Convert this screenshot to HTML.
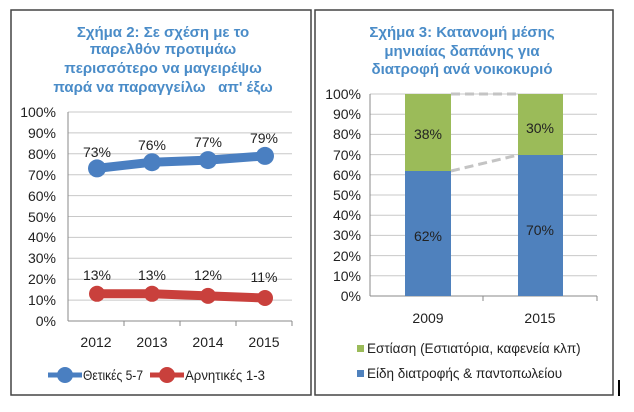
<!DOCTYPE html>
<html><head><meta charset="utf-8"><style>
html,body{margin:0;padding:0;background:#fff;}
svg{display:block;font-family:"Liberation Sans","DejaVu Sans",sans-serif;}
</style></head><body>
<svg width="634" height="412" viewBox="0 0 634 412" xmlns="http://www.w3.org/2000/svg">
<rect x="11" y="10" width="300" height="385" fill="#fff" stroke="#444" stroke-width="1.5"/>
<rect x="315" y="10" width="298" height="385" fill="#fff" stroke="#444" stroke-width="1.5"/>
<line x1="619" y1="380" x2="619" y2="396" stroke="#000" stroke-width="2"/>
<g fill="#4a8cc8" font-weight="bold" font-size="15" text-anchor="middle">
<text x="163" y="37">Σχήμα 2: Σε σχέση με το</text>
<text x="163" y="54">παρελθόν προτιμάω</text>
<text x="163" y="73">περισσότερο να μαγειρέψω</text>
<text x="163" y="92">παρά να παραγγείλω&#160;&#160; απ' έξω</text>
<text x="462" y="37">Σχήμα 3: Κατανομή μέσης</text>
<text x="462" y="56">μηνιαίας δαπάνης για</text>
<text x="462" y="74">διατροφή ανά νοικοκυριό</text>
</g>
<!-- left grid: 100% at 112, 0% at 321 -->
<g stroke="#c8c8c8" stroke-width="1">
<line x1="68" y1="112" x2="292" y2="112"/><line x1="68" y1="132.9" x2="292" y2="132.9"/>
<line x1="68" y1="153.8" x2="292" y2="153.8"/><line x1="68" y1="174.7" x2="292" y2="174.7"/>
<line x1="68" y1="195.6" x2="292" y2="195.6"/><line x1="68" y1="216.5" x2="292" y2="216.5"/>
<line x1="68" y1="237.4" x2="292" y2="237.4"/><line x1="68" y1="258.3" x2="292" y2="258.3"/>
<line x1="68" y1="279.2" x2="292" y2="279.2"/><line x1="68" y1="300.1" x2="292" y2="300.1"/>
</g>
<g stroke="#888"><line x1="68" y1="112" x2="68" y2="321"/><line x1="68" y1="321" x2="292" y2="321"/>
<line x1="124" y1="321" x2="124" y2="326"/><line x1="180" y1="321" x2="180" y2="326"/><line x1="236" y1="321" x2="236" y2="326"/><line x1="292" y1="321" x2="292" y2="326"/></g>
<g font-size="14" fill="#222" text-anchor="end">
<text x="56" y="117">100%</text><text x="56" y="138">90%</text><text x="56" y="159">80%</text>
<text x="56" y="180">70%</text><text x="56" y="201">60%</text><text x="56" y="222">50%</text>
<text x="56" y="242">40%</text><text x="56" y="263">30%</text><text x="56" y="284">20%</text>
<text x="56" y="305">10%</text><text x="56" y="326">0%</text>
</g>
<g font-size="14" fill="#222" text-anchor="middle">
<text x="96" y="347">2012</text><text x="152" y="347">2013</text><text x="208" y="347">2014</text><text x="264" y="347">2015</text>
<text x="97" y="157">73%</text><text x="152" y="150">76%</text><text x="208" y="147">77%</text><text x="264" y="143">79%</text>
<text x="97" y="280">13%</text><text x="152" y="280">13%</text><text x="208" y="280">12%</text><text x="264" y="282">11%</text>
</g>
<polyline points="97,168.4 152,162.2 208,160.1 265,155.9" fill="none" stroke="#4a7fc1" stroke-width="9" stroke-linejoin="round"/>
<g fill="#4a7fc1"><circle cx="97" cy="168.4" r="9"/><circle cx="152" cy="162.2" r="9"/><circle cx="208" cy="160.1" r="9"/><circle cx="265" cy="155.9" r="9"/></g>
<polyline points="97,293.8 152,293.8 208,295.9 265,298" fill="none" stroke="#c9403c" stroke-width="9" stroke-linejoin="round"/>
<g fill="#c9403c"><circle cx="97" cy="293.8" r="8"/><circle cx="152" cy="293.8" r="8"/><circle cx="208" cy="295.9" r="8"/><circle cx="265" cy="298" r="8"/></g>
<line x1="48" y1="375" x2="82" y2="375" stroke="#4a7fc1" stroke-width="5"/><circle cx="65" cy="375" r="8" fill="#4a7fc1"/>
<line x1="150" y1="375" x2="184" y2="375" stroke="#c9403c" stroke-width="5"/><circle cx="167" cy="375" r="8" fill="#c9403c"/>
<g font-size="13.5" fill="#222"><text x="83" y="380" textLength="60" lengthAdjust="spacingAndGlyphs">Θετικές 5-7</text><text x="185" y="380" textLength="80" lengthAdjust="spacingAndGlyphs">Αρνητικές 1-3</text></g>
<!-- right grid -->
<g stroke="#c8c8c8">
<line x1="370" y1="94" x2="597" y2="94"/><line x1="370" y1="114.2" x2="597" y2="114.2"/><line x1="370" y1="134.4" x2="597" y2="134.4"/>
<line x1="370" y1="154.6" x2="597" y2="154.6"/><line x1="370" y1="174.8" x2="597" y2="174.8"/><line x1="370" y1="195" x2="597" y2="195"/>
<line x1="370" y1="215.2" x2="597" y2="215.2"/><line x1="370" y1="235.4" x2="597" y2="235.4"/><line x1="370" y1="255.6" x2="597" y2="255.6"/>
<line x1="370" y1="275.8" x2="597" y2="275.8"/>
</g>
<g stroke="#888"><line x1="370" y1="94" x2="370" y2="296"/><line x1="370" y1="296" x2="597" y2="296"/>
<line x1="483" y1="296" x2="483" y2="301"/><line x1="597" y1="296" x2="597" y2="301"/></g>
<g font-size="14" fill="#222" text-anchor="end">
<text x="361" y="99">100%</text><text x="361" y="119">90%</text><text x="361" y="139">80%</text>
<text x="361" y="160">70%</text><text x="361" y="180">60%</text><text x="361" y="200">50%</text>
<text x="361" y="220">40%</text><text x="361" y="240">30%</text><text x="361" y="261">20%</text>
<text x="361" y="281">10%</text><text x="361" y="301">0%</text>
</g>
<rect x="405" y="171" width="46" height="125" fill="#4f81bd"/>
<rect x="405" y="94" width="46" height="77" fill="#9bbb59"/>
<rect x="518" y="155" width="45" height="141" fill="#4f81bd"/>
<rect x="518" y="94" width="45" height="61" fill="#9bbb59"/>
<line x1="451" y1="94" x2="518" y2="94" stroke="#c4c4c4" stroke-width="3" stroke-dasharray="9,5"/>
<line x1="451" y1="171" x2="518" y2="155" stroke="#c4c4c4" stroke-width="3" stroke-dasharray="9,5"/>
<g font-size="14" fill="#222" text-anchor="middle">
<text x="428" y="139">38%</text><text x="540" y="133">30%</text>
<text x="428" y="241">62%</text><text x="540" y="235">70%</text>
<text x="428" y="323">2009</text><text x="540" y="323">2015</text>
</g>
<rect x="357" y="345" width="7" height="7" fill="#9bbb59"/>
<rect x="357" y="370" width="7" height="7" fill="#4f81bd"/>
<g font-size="13.5" fill="#222"><text x="367" y="353">Εστίαση (Εστιατόρια, καφενεία κλπ)</text><text x="367" y="378">Είδη διατροφής &amp; παντοπωλείου</text></g>
</svg>
</body></html>
